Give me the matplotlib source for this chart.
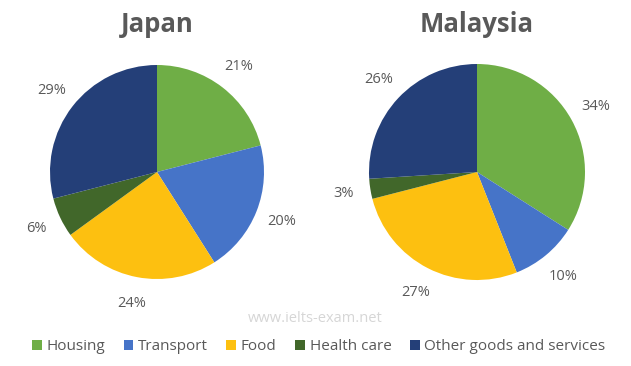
import matplotlib.pyplot as plt

categories = ['Housing', 'Transport', 'Food', 'Health care', 'Other goods and services']
japan = [21, 20, 24, 6, 29]
malaysia = [34, 10, 27, 3, 26]
colors = ['#6fae46', '#4674c8', '#fdc010', '#41672a', '#243f78']

plt.rcParams['font.family'] = ['Open Sans', 'DejaVu Sans']
gray = '#595959'

W, H = 631, 366
fig = plt.figure(figsize=(W / 100, H / 100), dpi=100)


def draw_pie(cx, cy, r, values, title):
    ax = fig.add_axes([(cx - r) / W, 1 - (cy + r) / H, 2 * r / W, 2 * r / H])
    wedges, texts, autotexts = ax.pie(values, colors=colors, startangle=90, counterclock=False,
                                      autopct='%1.0f%%', pctdistance=1.25,
                                      wedgeprops=dict(linewidth=0),
                                      textprops=dict(color=gray, fontsize=10.5))
    ax.set_xlim(-1, 1)
    ax.set_ylim(-1, 1)
    ax.set_aspect('auto')
    ax.axis('off')
    fig.text(cx / W, 1 - 24 / H, title, ha='center', va='center',
             fontsize=18.5, fontweight='bold', color=gray)
    return wedges


wedges = draw_pie(157, 172, 107, japan, 'Japan')
draw_pie(477, 172, 108, malaysia, 'Malaysia')

fig.text(0.5, 1 - 318 / H, 'www.ielts-exam.net', ha='center', va='center',
         fontsize=10.5, color='#d6d6d6')

fig.legend(wedges, categories, loc='center', bbox_to_anchor=(0.505, 1 - 347 / H), ncol=5,
           frameon=False, fontsize=11, handlelength=0.65, handleheight=0.65,
           handletextpad=0.3, columnspacing=1.2, labelcolor=gray)

fig.savefig('out.png', dpi=100)
